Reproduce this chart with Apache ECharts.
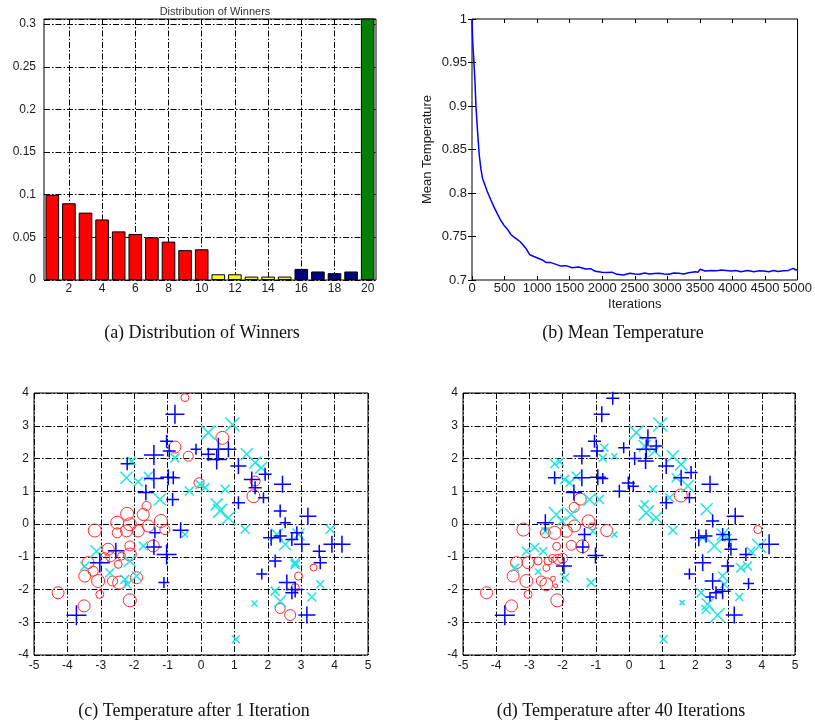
<!DOCTYPE html>
<html>
<head>
<meta charset="utf-8">
<script src="https://cdn.jsdelivr.net/npm/echarts@6.0.0/dist/echarts.min.js"></script>
<style>
  html, body { margin: 0; padding: 0; background: #fff; }
  #chart { width: 815px; height: 726px; }
</style>
</head>
<body>
<div id="chart"></div>
<script>
// (a) share of wins per player
const players = Array.from({ length: 20 }, (_, i) => String(i + 1))
const winnerShare = [0.100, 0.090, 0.079, 0.071, 0.057, 0.054, 0.050, 0.045, 0.035, 0.036,
  0.0067, 0.0067, 0.004, 0.004, 0.004, 0.013, 0.010, 0.008, 0.010, 0.32]
const barColors = ['#ff0000', '#ff0000', '#ff0000', '#ff0000', '#ff0000', '#ff0000', '#ff0000', '#ff0000', '#ff0000', '#ff0000',
  '#ffff00', '#ffff00', '#ffff00', '#ffff00', '#ffff00', '#000080', '#000080', '#000080', '#000080', '#007f00']

// (b) mean temperature vs iterations
const tempCurve = [
  [0, 1.0], [10, 0.975], [26, 0.955], [46, 0.928], [60, 0.901], [86, 0.870], [111, 0.844], [136, 0.828],
  [161, 0.817], [200, 0.809], [236, 0.8015], [290, 0.792], [337, 0.784], [390, 0.776], [437, 0.769],
  [490, 0.763], [538, 0.759], [600, 0.752], [650, 0.749], [688, 0.747], [740, 0.744], [789, 0.740],
  [840, 0.735], [889, 0.729], [950, 0.727], [1015, 0.725], [1080, 0.723], [1140, 0.720], [1210, 0.720],
  [1291, 0.718], [1360, 0.716], [1442, 0.7165], [1542, 0.714], [1640, 0.715], [1743, 0.7127], [1820, 0.713],
  [1894, 0.710], [1994, 0.709], [2074, 0.7087], [2150, 0.709], [2224, 0.7065], [2325, 0.7057], [2425, 0.7077],
  [2500, 0.707], [2576, 0.7065], [2650, 0.708], [2726, 0.707], [2800, 0.7075], [2877, 0.7077], [2950, 0.707],
  [3027, 0.7065], [3100, 0.708], [3178, 0.7077], [3250, 0.707], [3328, 0.7084], [3429, 0.7096], [3470, 0.709],
  [3504, 0.7123], [3579, 0.7103], [3680, 0.711], [3750, 0.7105], [3830, 0.7115], [3900, 0.711], [3981, 0.7103],
  [4050, 0.711], [4132, 0.7096], [4232, 0.711], [4333, 0.7096], [4400, 0.7105], [4483, 0.7103], [4560, 0.7095],
  [4634, 0.711], [4700, 0.7098], [4785, 0.7107], [4860, 0.711], [4935, 0.7134], [4975, 0.7115], [5000, 0.712]
]
const iterTicks = 500
const tempTicks = 0.05

// (c) after 1 iteration: [x, y, marker size]
const circles1 = [
  [-0.48, 3.86, 8], [-0.78, 2.35, 12], [-0.38, 2.07, 10], [-0.06, 1.26, 10], [0.64, 2.63, 13], [1.62, 1.31, 10],
  [1.57, 0.85, 13], [-1.63, 0.55, 9], [-1.73, 0.29, 12], [-2.21, 0.31, 13], [-2.51, 0.04, 13], [-2.13, -0.01, 13],
  [-1.20, 0.09, 13], [-1.08, -0.17, 10], [-3.18, -0.20, 13], [-2.51, -0.27, 10], [-2.23, -0.21, 12], [-1.88, -0.21, 12],
  [-1.58, -0.06, 12], [-2.13, -0.67, 10], [-2.78, -0.77, 12], [-1.43, -0.67, 12], [-2.13, -0.93, 13], [-2.88, -1.03, 10],
  [-2.48, -1.23, 8], [-2.38, -0.98, 8], [-3.38, -1.18, 12], [-3.23, -1.44, 10], [-3.48, -1.59, 12], [-3.08, -1.74, 13],
  [-2.65, -1.74, 10], [-2.45, -1.79, 13], [-1.93, -1.64, 12], [-3.03, -2.15, 8], [-2.13, -2.33, 13], [-4.28, -2.10, 12],
  [-3.50, -2.50, 12], [-2.70, -1.00, 10], [3.37, -1.33, 7], [2.92, -1.59, 8], [2.82, -1.94, 8], [2.37, -2.58, 10],
  [2.67, -2.78, 11]
]
const pluses1 = [
  [-0.78, 3.35, 19], [-1.03, 2.53, 13], [-0.95, 2.23, 13], [-1.41, 2.11, 20], [-2.21, 1.84, 13], [-0.15, 2.28, 11],
  [-0.98, 1.43, 16], [-0.83, 1.41, 13], [-1.41, 1.39, 20], [-1.65, 0.96, 16], [-0.85, 0.75, 13], [-1.38, -0.27, 11],
  [-0.61, -0.19, 16], [-1.41, -0.70, 16], [-1.03, -0.93, 20], [-2.55, -0.82, 16], [-3.03, -1.18, 20], [-1.11, -1.79, 11],
  [-3.73, -2.79, 20], [0.52, 2.28, 23], [0.47, 1.97, 20], [0.82, 2.28, 16], [0.22, 2.13, 13], [1.12, 1.77, 16],
  [1.92, 1.52, 13], [1.52, 1.36, 16], [1.62, 1.11, 13], [2.44, 1.21, 17], [1.87, 0.80, 11], [1.12, 0.65, 13],
  [2.37, 0.40, 13], [2.52, 0.04, 11], [3.20, 0.24, 17], [2.10, -0.42, 16], [2.37, -0.37, 13], [2.72, -0.47, 13],
  [2.87, -0.27, 13], [3.02, -0.62, 16], [3.57, -1.18, 13], [3.54, -0.83, 13], [3.92, -0.62, 17], [4.22, -0.62, 17],
  [2.22, -1.13, 13], [1.82, -1.53, 11], [2.57, -1.79, 16], [2.82, -2.00, 16], [2.72, -2.10, 13], [3.17, -2.78, 17]
]
const crosses1 = [
  [-2.08, 1.92, 8], [-2.23, 1.41, 12], [-1.88, 1.29, 9], [-1.58, 1.46, 9], [-1.23, 0.75, 12], [-0.35, 1.01, 9],
  [-0.48, -0.32, 6], [-3.13, -0.83, 12], [-2.73, -1.49, 9], [-2.13, -1.13, 12], [-2.28, -1.69, 9], [-1.93, -1.59, 9],
  [-1.73, -0.67, 9], [-0.78, 2.02, 9], [-2.21, -1.84, 8], [-3.48, -1.29, 9], [0.94, 3.04, 14], [0.22, 2.79, 14],
  [1.37, 2.13, 12], [1.62, 1.87, 12], [1.80, 1.72, 12], [0.12, 1.11, 9], [0.72, 1.06, 9], [0.47, 0.60, 12],
  [0.57, 0.40, 14], [0.82, 0.19, 14], [1.32, -0.16, 9], [2.27, -0.32, 12], [2.52, -0.62, 12], [2.92, -0.32, 12],
  [3.87, -0.16, 9], [2.82, -1.18, 9], [3.57, -1.84, 8], [3.32, -2.23, 9], [2.22, -2.05, 9], [2.37, -2.35, 12],
  [1.60, -2.43, 6], [1.04, -3.52, 8], [-0.03, 1.21, 9], [2.82, -1.24, 9]
]

// (d) after 40 iterations
const circles40 = [
  [-1.47, 0.76, 12], [-1.65, 0.51, 10], [-1.22, 0.08, 13], [-0.67, -0.20, 12], [-1.11, -0.07, 7], [-1.40, -0.68, 13],
  [-1.74, -0.65, 10], [-2.18, -0.68, 8], [-3.18, -0.17, 13], [-1.89, -0.22, 12], [-2.24, -0.27, 13], [-2.52, -0.27, 10],
  [-1.64, -0.06, 12], [-2.14, -1.08, 10], [-2.44, -1.13, 8], [-2.49, -1.34, 7], [-2.74, -1.13, 8], [-3.04, -1.18, 12],
  [-3.39, -1.18, 12], [-3.49, -1.59, 12], [-3.09, -1.74, 13], [-2.64, -1.74, 10], [-2.49, -1.84, 13], [-2.29, -1.67, 5],
  [-2.21, -1.89, 4], [-3.04, -2.15, 8], [-2.16, -2.33, 13], [-4.29, -2.10, 12], [-3.54, -2.50, 12], [1.56, 0.87, 13],
  [3.88, -0.17, 8], [-2.30, -1.05, 8], [-2.00, -1.05, 10]
]
const pluses40 = [
  [-0.49, 3.84, 13], [-0.82, 3.35, 16], [-1.04, 2.53, 13], [-0.96, 2.23, 13], [-1.42, 2.08, 17], [-0.16, 2.33, 11],
  [-2.24, 1.41, 13], [-1.42, 1.41, 17], [-0.94, 1.43, 16], [-0.79, 1.39, 11], [-1.66, 0.96, 16], [-0.29, 1.00, 13],
  [-0.02, 1.25, 13], [0.13, 1.15, 11], [-2.52, 0.04, 17], [-1.34, -0.32, 13], [-1.39, -0.70, 13], [-1.01, -0.96, 16],
  [-1.96, -1.28, 16], [-3.74, -2.79, 20], [0.57, 2.63, 17], [0.52, 2.28, 20], [0.50, 1.92, 16], [0.82, 2.38, 13],
  [0.17, 2.00, 13], [1.12, 1.77, 16], [1.87, 1.57, 13], [1.57, 1.41, 16], [1.82, 0.80, 11], [2.44, 1.21, 17],
  [1.12, 0.65, 13], [2.52, 0.09, 13], [3.20, 0.24, 17], [2.10, -0.42, 17], [2.32, -0.37, 13], [2.82, -0.32, 13],
  [3.02, -0.47, 16], [3.07, -0.77, 13], [3.52, -0.93, 13], [4.22, -0.62, 20], [2.22, -1.18, 17], [2.97, -1.28, 13],
  [1.82, -1.53, 11], [2.52, -1.74, 16], [3.60, -1.82, 11], [2.82, -2.05, 16], [2.44, -2.23, 9], [2.62, -2.10, 13],
  [3.17, -2.78, 17]
]
const crosses40 = [
  [-2.24, 1.84, 9], [-2.09, 1.90, 8], [-1.94, 1.36, 9], [-1.79, 1.26, 8], [-1.59, 1.46, 9], [-0.79, 2.02, 8],
  [-0.44, 2.07, 6], [-0.74, 2.33, 8], [-1.19, 0.75, 12], [-0.89, 0.75, 9], [-2.19, 0.29, 15], [-2.02, 0.09, 9],
  [-1.74, 0.29, 12], [-2.52, -0.22, 8], [-0.44, -0.32, 6], [-1.09, -0.22, 8], [-3.09, -0.83, 9], [-2.84, -0.72, 9],
  [-2.59, -0.83, 8], [-3.44, -1.34, 8], [-2.74, -1.46, 6], [-1.94, -1.64, 9], [-1.14, -1.79, 9], [0.94, 3.04, 14],
  [0.22, 2.79, 14], [0.47, 2.38, 12], [0.77, 2.23, 12], [1.32, 2.07, 12], [1.57, 1.82, 12], [1.42, 1.41, 9],
  [1.77, 1.16, 12], [0.72, 1.06, 8], [1.22, 0.80, 9], [0.47, 0.60, 8], [0.52, 0.34, 15], [0.82, 0.19, 12],
  [1.32, -0.19, 9], [2.34, 0.45, 12], [2.22, -0.42, 9], [2.57, -0.67, 14], [2.82, -0.32, 12], [2.97, -0.42, 8],
  [3.92, -0.67, 14], [3.67, -0.83, 9], [3.37, -1.34, 9], [3.57, -1.28, 9], [2.82, -1.59, 9], [2.87, -1.84, 8],
  [3.32, -2.23, 8], [2.17, -2.10, 9], [2.37, -2.45, 12], [2.32, -2.61, 9], [2.67, -2.78, 14], [1.60, -2.40, 5],
  [1.04, -3.52, 8]
]

const captions = ['(a) Distribution of Winners', '(b) Mean Temperature',
  '(c) Temperature after 1 Iteration', '(d) Temperature after 40 Iterations']

const chart = echarts.init(document.getElementById('chart'), null, { renderer: 'canvas' })

const labelFont = { color: '#1a1a1a', fontFamily: 'Liberation Sans', fontSize: 12 }
const dashDot = { color: '#000', width: 1, type: [6, 2, 1.5, 2] }
const isEven = (i) => i % 2 === 1
const plain = (v) => String(v)

const scatterAxis = (gridIndex, min, max) => ({
  type: 'value',
  gridIndex,
  min,
  max,
  interval: 1,
  axisLine: { show: false },
  axisTick: { show: false },
  axisLabel: { ...labelFont, margin: 5 },
  splitLine: { show: true, lineStyle: dashDot },
})

const PLUS = 'path://M1,0L1,2M0,1L2,1'
const CROSS = 'path://M0,0L2,2M2,0L0,2'

const markers = (data, axis, symbol, color, width) => ({
  type: 'scatter',
  xAxisIndex: axis,
  yAxisIndex: axis,
  data,
  symbol,
  symbolSize: (d) => d[2],
  itemStyle: { color: 'rgba(0,0,0,0)', borderColor: color, borderWidth: width, opacity: 1 },
  emphasis: { disabled: true },
})

const captionAt = (text, x, y) => ({
  type: 'text',
  x,
  y,
  style: {
    text,
    fill: '#111',
    font: '18px "Liberation Serif"',
    align: 'center',
    verticalAlign: 'middle',
  },
})

chart.setOption({
  animation: false,
  backgroundColor: '#fff',
  title: [{
    text: 'Distribution of Winners',
    left: 210,
    top: 1,
    textAlign: 'center',
    textStyle: { fontFamily: 'Liberation Sans', fontSize: 11, fontWeight: 'normal', color: '#333' },
  }],
  grid: [
    { left: 44, top: 19, width: 332, height: 261, show: true, borderColor: '#000', borderWidth: 1 },
    { left: 472, top: 19, width: 332, height: 261, show: true, borderColor: '#000', borderWidth: 1 },
    { left: 34, top: 393, width: 334, height: 262, show: true, borderColor: '#000', borderWidth: 1 },
    { left: 463, top: 393, width: 332, height: 262, show: true, borderColor: '#000', borderWidth: 1 },
  ],
  xAxis: [
    {
      type: 'category',
      gridIndex: 0,
      data: players,
      axisLine: { show: false },
      axisTick: { show: false },
      axisLabel: { ...labelFont, interval: isEven, margin: 3 },
      splitLine: { show: true, interval: isEven, alignWithLabel: true, lineStyle: dashDot },
    },
    {
      type: 'value',
      gridIndex: 1,
      min: 0,
      max: 5000,
      interval: iterTicks,
      name: 'Iterations',
      nameLocation: 'middle',
      nameGap: 18,
      nameTextStyle: { ...labelFont, fontSize: 13 },
      axisLine: { show: false },
      axisTick: { inside: true, length: 4, lineStyle: { color: '#000' } },
      axisLabel: { ...labelFont, fontSize: 13, margin: 2, formatter: plain },
      splitLine: { show: false },
    },
    {
      type: 'value',
      gridIndex: 1,
      position: 'top',
      min: 0,
      max: 5000,
      interval: iterTicks,
      axisLine: { show: false },
      axisTick: { inside: true, length: 4, lineStyle: { color: '#000' } },
      axisLabel: { show: false },
      splitLine: { show: false },
    },
    scatterAxis(2, -5, 5),
    scatterAxis(3, -5, 5),
  ],
  yAxis: [
    {
      type: 'value',
      gridIndex: 0,
      min: 0,
      max: 0.306,
      interval: 0.05,
      axisLine: { show: false },
      axisTick: { show: false },
      axisLabel: { ...labelFont, margin: 8, showMaxLabel: false },
      splitLine: { show: true, lineStyle: dashDot },
    },
    {
      type: 'value',
      gridIndex: 1,
      min: 0.7,
      max: 1,
      interval: tempTicks,
      name: 'Mean Temperature',
      nameLocation: 'middle',
      nameGap: 38,
      nameTextStyle: { ...labelFont, fontSize: 13 },
      axisLine: { show: false },
      axisTick: { inside: true, length: 4, lineStyle: { color: '#000' } },
      axisLabel: { ...labelFont, fontSize: 13, margin: 5 },
      splitLine: { show: false },
    },
    {
      type: 'value',
      gridIndex: 1,
      position: 'right',
      min: 0.7,
      max: 1,
      interval: tempTicks,
      axisLine: { show: false },
      axisTick: { inside: true, length: 4, lineStyle: { color: '#000' } },
      axisLabel: { show: false },
      splitLine: { show: false },
    },
    scatterAxis(2, -4, 4),
    scatterAxis(3, -4, 4),
  ],
  series: [
    {
      type: 'bar',
      xAxisIndex: 0,
      yAxisIndex: 0,
      barWidth: '82%',
      data: winnerShare.map((v, i) => ({ value: v, itemStyle: { color: barColors[i] } })),
      itemStyle: { borderColor: '#000', borderWidth: 1 },
      emphasis: { disabled: true },
    },
    {
      type: 'line',
      xAxisIndex: 1,
      yAxisIndex: 1,
      data: tempCurve,
      showSymbol: false,
      lineStyle: { color: '#0000ff', width: 1.5 },
      emphasis: { disabled: true },
    },
    markers(circles1, 3, 'circle', '#ff2a2a', 1),
    markers(crosses1, 3, CROSS, '#22e3e3', 1.5),
    markers(pluses1, 3, PLUS, '#0000ff', 1.5),
    markers(circles40, 4, 'circle', '#ff2a2a', 1),
    markers(crosses40, 4, CROSS, '#22e3e3', 1.5),
    markers(pluses40, 4, PLUS, '#0000ff', 1.5),
  ],
  graphic: [
    captionAt(captions[0], 202, 333),
    captionAt(captions[1], 623, 333),
    captionAt(captions[2], 194, 711),
    captionAt(captions[3], 621, 711),
  ],
})
</script>
</body>
</html>
